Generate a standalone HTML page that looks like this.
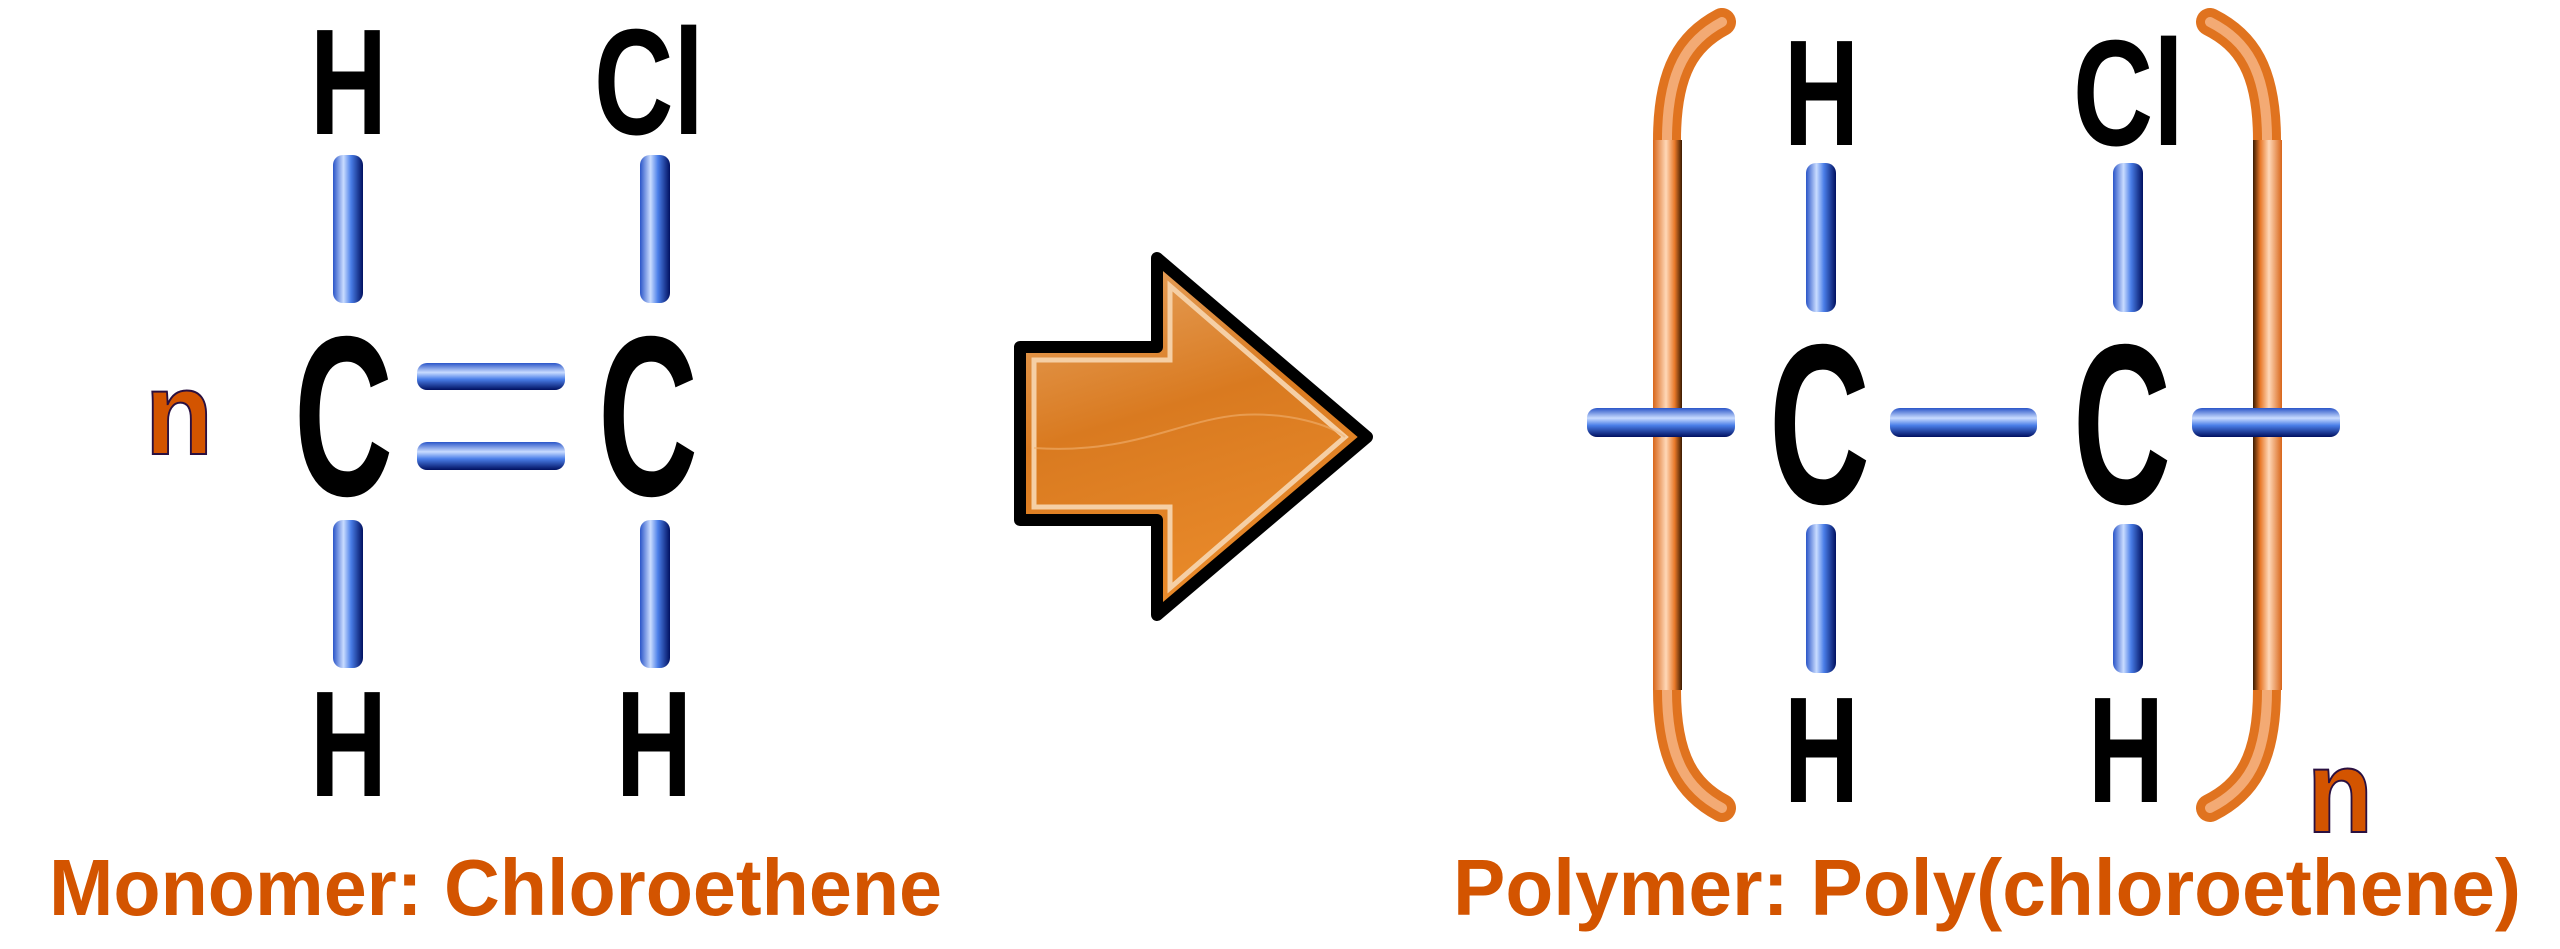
<!DOCTYPE html>
<html><head><meta charset="utf-8"><style>
html,body{margin:0;padding:0;background:#fff;}
svg{display:block;}
</style></head><body>
<svg width="2560" height="949" viewBox="0 0 2560 949" xmlns="http://www.w3.org/2000/svg">
<defs>
<linearGradient id="bv" x1="0" y1="0" x2="1" y2="0">
<stop offset="0" stop-color="#2a55c8"/><stop offset="0.35" stop-color="#c9dcff"/><stop offset="0.6" stop-color="#4a7ee8"/><stop offset="1" stop-color="#001060"/>
</linearGradient>
<linearGradient id="bh" x1="0" y1="0" x2="0" y2="1">
<stop offset="0" stop-color="#2a55c8"/><stop offset="0.35" stop-color="#c9dcff"/><stop offset="0.6" stop-color="#4a7ee8"/><stop offset="1" stop-color="#001060"/>
</linearGradient>
<linearGradient id="ar" x1="0" y1="0" x2="0.3" y2="1">
<stop offset="0" stop-color="#e8a868"/><stop offset="0.5" stop-color="#d97a20"/><stop offset="1" stop-color="#e98a2a"/>
</linearGradient>
<linearGradient id="brl" x1="0" y1="0" x2="1" y2="0">
<stop offset="0" stop-color="#d8661a"/><stop offset="0.45" stop-color="#ffd8b8"/><stop offset="0.75" stop-color="#e87828"/><stop offset="1" stop-color="#3a1a00"/>
</linearGradient>
<linearGradient id="brr" x1="0" y1="0" x2="1" y2="0">
<stop offset="0" stop-color="#3a1a00"/><stop offset="0.25" stop-color="#e87828"/><stop offset="0.55" stop-color="#ffd8b8"/><stop offset="1" stop-color="#d8661a"/>
</linearGradient>
</defs>
<style>
.a{font-family:"Liberation Sans Narrow","Liberation Sans",sans-serif;font-weight:bold;fill:#000;}
.o{font-family:"Liberation Sans Narrow","Liberation Sans",sans-serif;font-weight:bold;fill:#d35400;}
</style>

<!-- LEFT: monomer -->
<text class="a" x="310" y="134" font-size="151" textLength="77" lengthAdjust="spacingAndGlyphs">H</text>
<text class="a" x="594" y="134" font-size="151" textLength="110" lengthAdjust="spacingAndGlyphs">Cl</text>
<rect x="333" y="155" width="30" height="148" rx="10" fill="url(#bv)"/>
<rect x="640" y="155" width="30" height="148" rx="10" fill="url(#bv)"/>
<text class="a" x="294" y="495" font-size="228" textLength="99" lengthAdjust="spacingAndGlyphs">C</text>
<text class="a" x="598" y="495" font-size="228" textLength="100" lengthAdjust="spacingAndGlyphs">C</text>
<rect x="417" y="363" width="148" height="27" rx="10" fill="url(#bh)"/>
<rect x="417" y="442" width="148" height="28" rx="10" fill="url(#bh)"/>
<rect x="333" y="520" width="30" height="148" rx="10" fill="url(#bv)"/>
<rect x="640" y="520" width="30" height="148" rx="10" fill="url(#bv)"/>
<text class="a" x="310" y="796" font-size="151" textLength="77" lengthAdjust="spacingAndGlyphs">H</text>
<text class="a" x="616" y="796" font-size="151" textLength="76" lengthAdjust="spacingAndGlyphs">H</text>
<text class="o" x="145" y="454" font-size="118" textLength="68" lengthAdjust="spacingAndGlyphs" fill="#c55a11" stroke="#2a1040" stroke-width="2">n</text>
<text class="o" x="49" y="915" font-size="80" textLength="893" lengthAdjust="spacingAndGlyphs">Monomer: Chloroethene</text>

<!-- ARROW -->
<path d="M1020 347 L1157 347 L1157 258 L1367 437 L1157 615 L1157 520 L1020 520 Z" fill="url(#ar)" stroke="#000" stroke-width="12" stroke-linejoin="round"/>
<path d="M1034 360 L1170 360 L1170 286 L1345 437 L1170 588 L1170 507 L1034 507 Z" fill="none" stroke="#f5cfa5" stroke-width="5"/>
<path d="M1034 448 C1130 455 1180 420 1240 415 C1290 412 1330 425 1345 437" fill="none" stroke="#f0b070" stroke-width="2" opacity="0.6"/>

<!-- RIGHT: polymer brackets -->
<path d="M1722 22 C1688 40 1667 70 1667 140 L1667 690 C1667 760 1688 790 1722 808" fill="none" stroke="#e0731f" stroke-width="28" stroke-linecap="round"/>
<path d="M1722 22 C1688 40 1667 70 1667 140 L1667 690 C1667 760 1688 790 1722 808" fill="none" stroke="#f8b88a" stroke-width="10" stroke-linecap="round" opacity="0.8"/>
<rect x="1653" y="140" width="29" height="550" fill="url(#brl)"/>
<path d="M2210 22 C2246 40 2267 70 2267 140 L2267 690 C2267 760 2246 790 2210 808" fill="none" stroke="#e0731f" stroke-width="28" stroke-linecap="round"/>
<path d="M2210 22 C2246 40 2267 70 2267 140 L2267 690 C2267 760 2246 790 2210 808" fill="none" stroke="#f8b88a" stroke-width="10" stroke-linecap="round" opacity="0.8"/>
<rect x="2253" y="140" width="29" height="550" fill="url(#brr)"/>

<text class="a" x="1784" y="145" font-size="151" textLength="75" lengthAdjust="spacingAndGlyphs">H</text>
<text class="a" x="2073" y="145" font-size="151" textLength="111" lengthAdjust="spacingAndGlyphs">Cl</text>
<rect x="1806" y="163" width="30" height="149" rx="10" fill="url(#bv)"/>
<rect x="2113" y="163" width="30" height="149" rx="10" fill="url(#bv)"/>
<text class="a" x="1769" y="503" font-size="228" textLength="101" lengthAdjust="spacingAndGlyphs">C</text>
<text class="a" x="2073" y="503" font-size="228" textLength="98" lengthAdjust="spacingAndGlyphs">C</text>
<rect x="1587" y="408" width="148" height="29" rx="10" fill="url(#bh)"/>
<rect x="1890" y="408" width="147" height="29" rx="10" fill="url(#bh)"/>
<rect x="2192" y="408" width="148" height="29" rx="10" fill="url(#bh)"/>
<rect x="1806" y="524" width="30" height="149" rx="10" fill="url(#bv)"/>
<rect x="2113" y="524" width="30" height="149" rx="10" fill="url(#bv)"/>
<text class="a" x="1784" y="802" font-size="151" textLength="75" lengthAdjust="spacingAndGlyphs">H</text>
<text class="a" x="2088" y="802" font-size="151" textLength="76" lengthAdjust="spacingAndGlyphs">H</text>
<text class="o" x="2307" y="832" font-size="118" textLength="66" lengthAdjust="spacingAndGlyphs" fill="#c55a11" stroke="#2a1040" stroke-width="2">n</text>
<text class="o" x="1453" y="915" font-size="80" textLength="1068" lengthAdjust="spacingAndGlyphs">Polymer: Poly(chloroethene)</text>
</svg>
</body></html>
